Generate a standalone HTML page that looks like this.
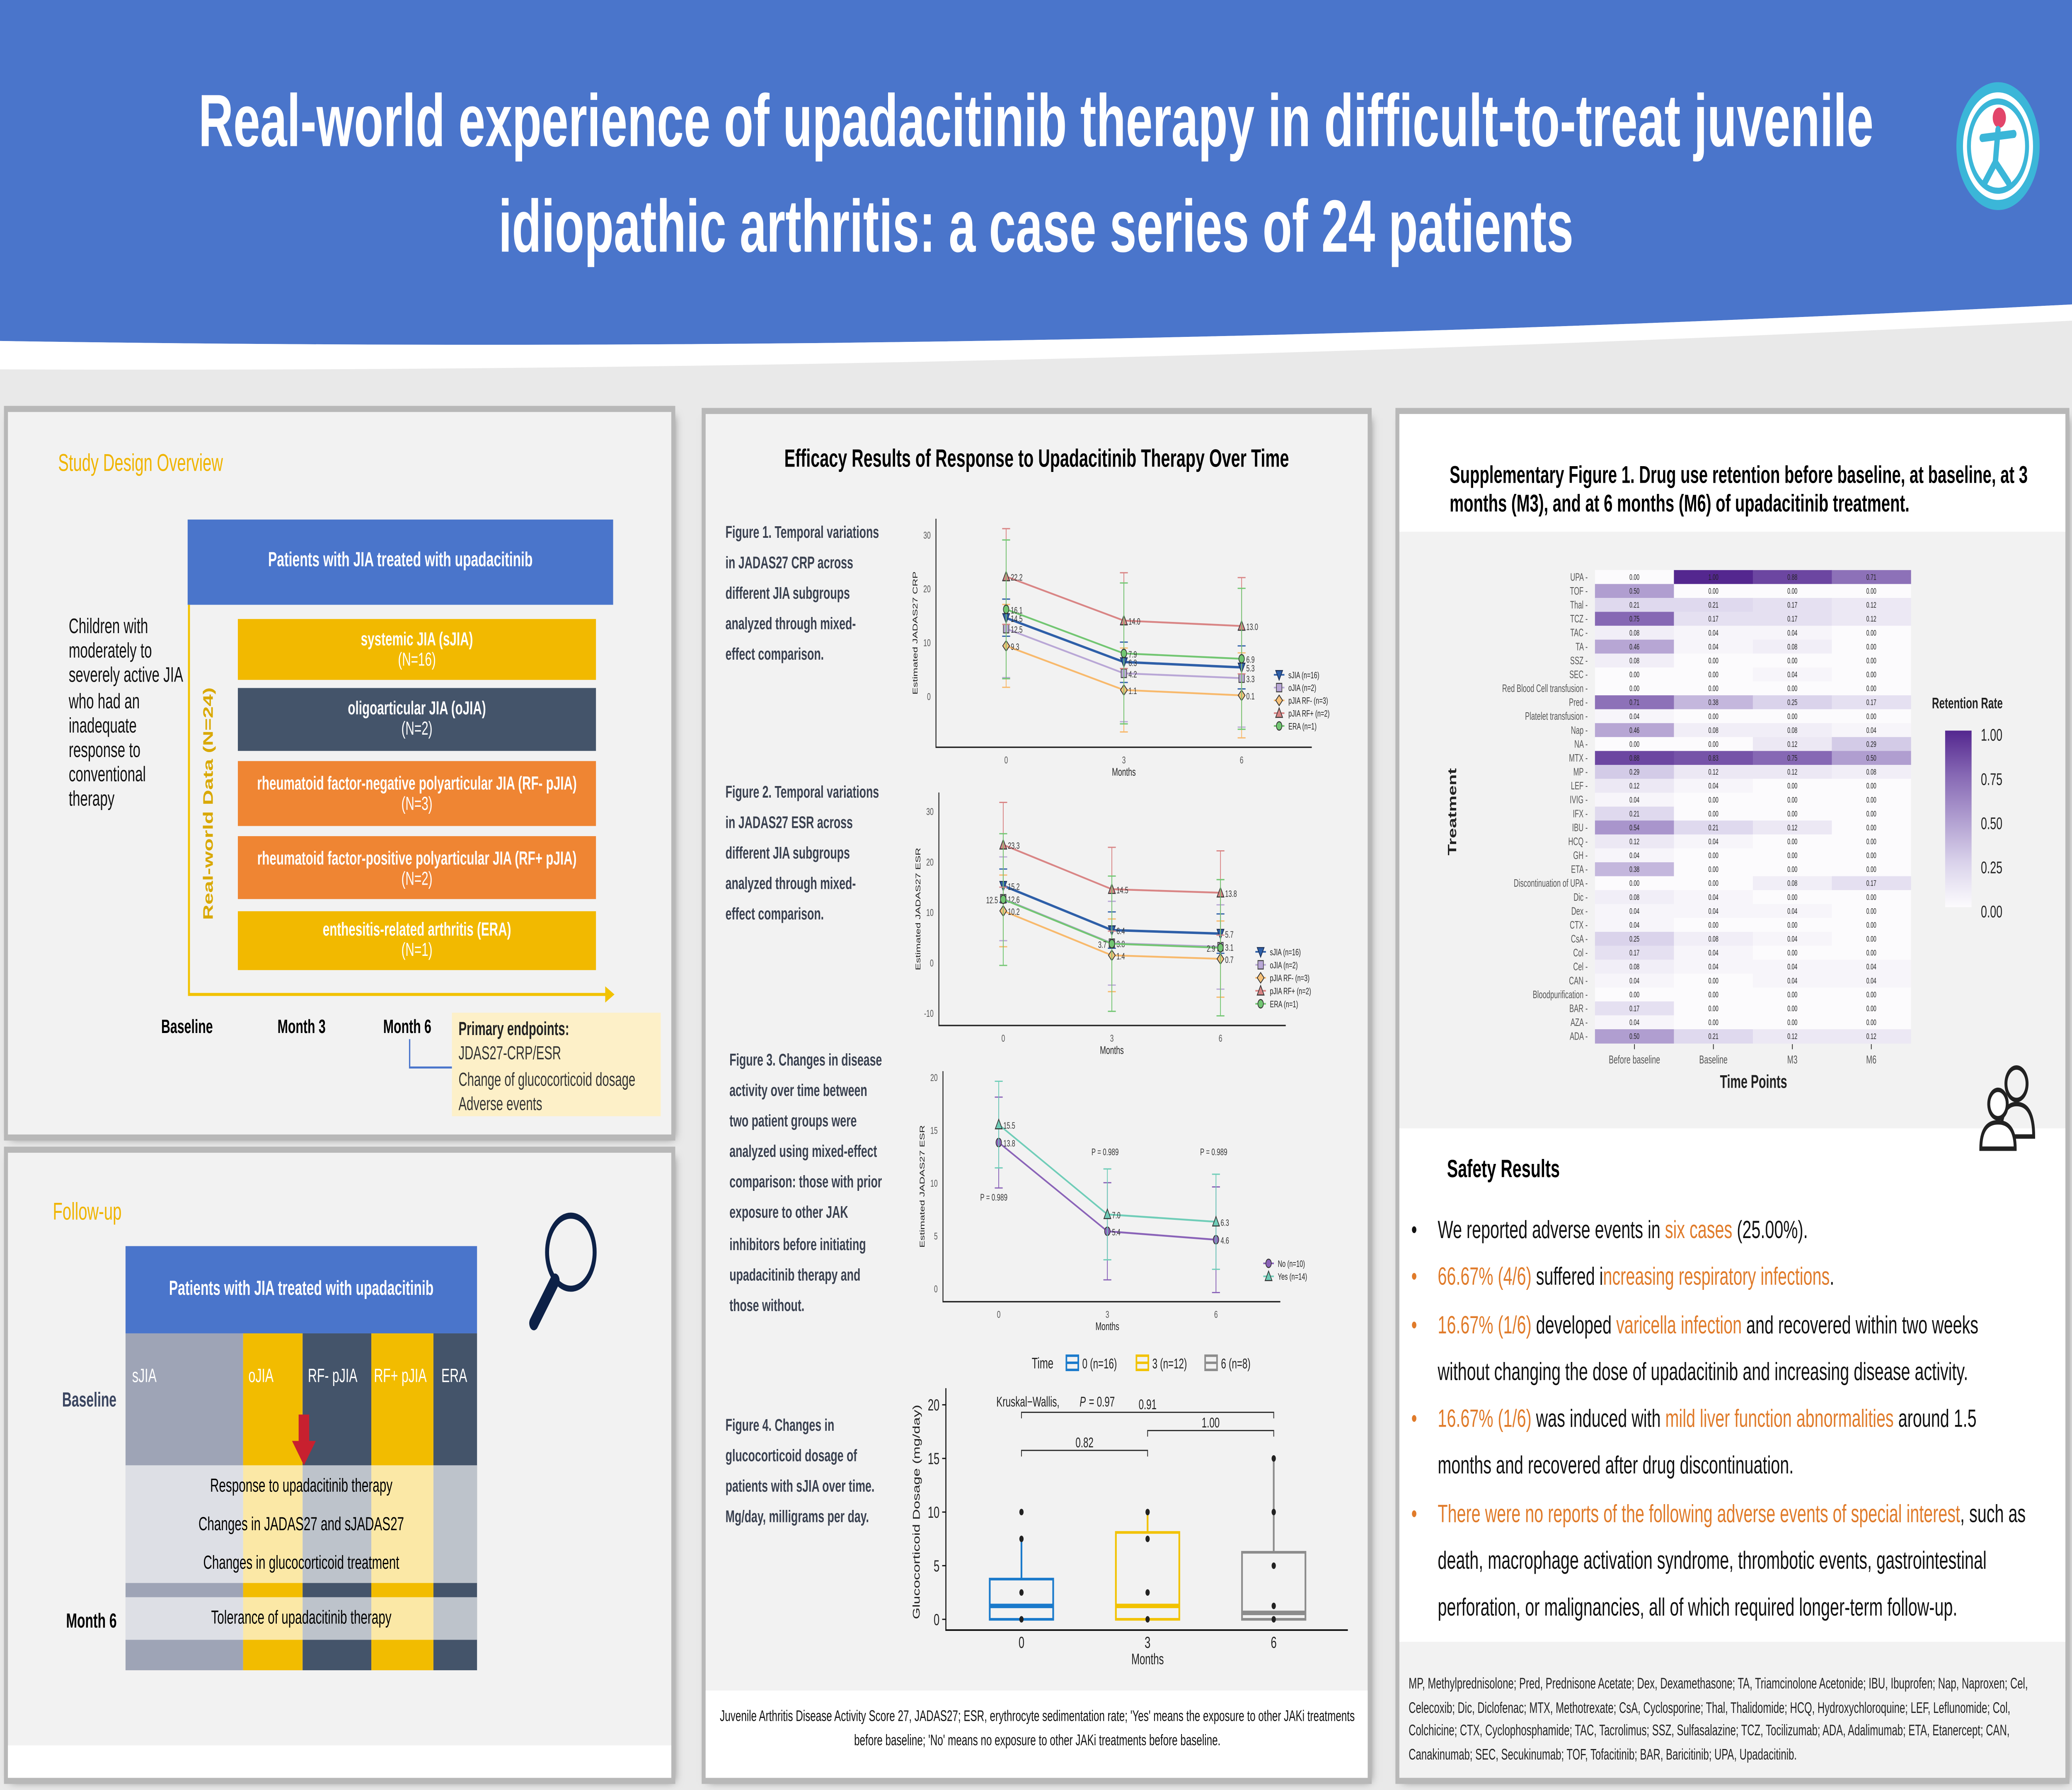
<!DOCTYPE html>
<html><head><meta charset="utf-8">
<style>
html,body{margin:0;padding:0;width:100vw;height:100vh;overflow:hidden;background:#e9e9e9;font-family:"Liberation Sans",sans-serif;}
#stage{position:absolute;left:0;top:0;width:1568px;height:882px;transform-origin:0 0;background:#e9e9e9;}
.abs{position:absolute;}
.panel{position:absolute;background:#f2f2f2;box-shadow:0 0 0 3px #b8b8b8,2px 2px 5px #777;}
.t{position:absolute;white-space:nowrap;}
.cap{position:absolute;font-size:8.4px;color:#3a4150;line-height:15.1px;font-weight:bold;font-family:"Liberation Sans Narrow","Liberation Sans",sans-serif;}
.sub{position:absolute;font-size:9.3px;text-align:center;color:#fff;line-height:10px;}
ul.b{position:absolute;margin:0;padding:0;list-style:none;font-size:12.4px;line-height:23.3px;color:#111;}
ul.b li{position:relative;padding-left:0;}
ul.b li:before{content:"•";position:absolute;left:-20px;}
ul.b li.o:before{color:#e07b2a;}
.or{color:#e07b2a;}
</style></head><body>
<div id="stage">

<svg class="abs" style="left:0;top:0" width="1568" height="200">
<path d="M0 190 Q784 172 1568 150 L1568 200 L0 200Z" fill="#e9e9e9"/>
<path d="M0 0 H1568 V150 Q784 176 0 168Z" fill="#4a75cb"/>
<path d="M0 168 Q784 176 1568 150 L1568 158 Q784 184 0 182Z" fill="#ffffff"/>
</svg>
<div class="t" style="left:0;width:1568px;top:34px;text-align:center;color:#fff;font-weight:bold;font-size:36.5px;line-height:52px;">Real-world experience of upadacitinib therapy in difficult-to-treat juvenile<br>idiopathic arthritis: a case series of 24 patients</div>
<svg class="abs" style="left:1480px;top:40px" width="64" height="64">
<circle cx="32" cy="32" r="29" fill="#fff" stroke="#3bb6d8" stroke-width="5"/>
<circle cx="32" cy="32" r="22" fill="none" stroke="#3bb6d8" stroke-width="3"/>
<circle cx="33" cy="18" r="5" fill="#e2456a"/>
<path d="M20 28 L44 26 M32 24 L30 40 L22 50 M30 40 L40 50" stroke="#3bb6d8" stroke-width="4" fill="none" stroke-linecap="round"/>
</svg>

<!-- LEFT PANEL 1 -->
<div class="panel" style="left:6px;top:203px;width:502px;height:356px"></div>
<div class="t" style="left:44px;top:221px;font-size:12px;color:#f0b400">Study Design Overview</div>
<div class="abs" style="left:52px;top:304px;width:90px;font-size:10.4px;line-height:12.2px;color:#111">Children with moderately to severely active JIA who had an inadequate response to conventional therapy</div>
<div class="abs" style="left:142px;top:256px;width:322px;height:42px;background:#4a75cb;color:#fff;font-size:10px;font-weight:bold;text-align:center;line-height:42px">Patients with JIA treated with upadacitinib</div>
<svg class="abs" style="left:140px;top:296px" width="330" height="200">
<path d="M3 2 V194 H322" fill="none" stroke="#f2c200" stroke-width="1.5"/>
<path d="M318 190 L325 194 L318 198Z" fill="#f2c200"/>
<text transform="translate(21,100) rotate(-90)" text-anchor="middle" font-size="10.5" font-weight="bold" fill="#d9a800">Real-world Data (N=24)</text>
</svg>
<div class="sub" style="left:180px;top:305px;width:271px;height:30px;background:#f2b900;padding-top:5px;box-sizing:border-box"><b>systemic JIA (sJIA)</b><br>(N=16)</div>
<div class="sub" style="left:180px;top:339px;width:271px;height:31px;background:#44546a;padding-top:5px;box-sizing:border-box"><b>oligoarticular JIA (oJIA)</b><br>(N=2)</div>
<div class="sub" style="left:180px;top:375px;width:271px;height:32px;background:#ef8533;padding-top:6px;box-sizing:border-box"><b>rheumatoid factor-negative polyarticular JIA (RF- pJIA)</b><br>(N=3)</div>
<div class="sub" style="left:180px;top:412px;width:271px;height:31px;background:#ef8533;padding-top:6px;box-sizing:border-box"><b>rheumatoid factor-positive polyarticular JIA (RF+ pJIA)</b><br>(N=2)</div>
<div class="sub" style="left:180px;top:449px;width:271px;height:29px;background:#f2b900;padding-top:4px;box-sizing:border-box"><b>enthesitis-related arthritis (ERA)</b><br>(N=1)</div>
<div class="t" style="left:122px;top:501px;font-size:9.5px;font-weight:bold">Baseline</div>
<div class="t" style="left:210px;top:501px;font-size:9.5px;font-weight:bold">Month 3</div>
<div class="t" style="left:290px;top:501px;font-size:9.5px;font-weight:bold">Month 6</div>
<svg class="abs" style="left:308px;top:512px" width="40" height="30"><path d="M2 0 V14 H34" fill="none" stroke="#4a75cb" stroke-width="1"/></svg>
<div class="abs" style="left:342px;top:499px;width:158px;height:51px;background:#fdf0c8;font-size:9.2px;line-height:12.3px;padding:2px 5px;box-sizing:border-box;color:#333"><b style="color:#222">Primary endpoints:</b><br>JDAS27-CRP/ESR<br>Change of glucocorticoid dosage<br>Adverse events</div>

<!-- LEFT PANEL 2 -->
<div class="panel" style="left:6px;top:568px;width:502px;height:308px"></div>
<div class="abs" style="left:6px;top:860px;width:502px;height:16px;background:#fff"></div>
<div class="t" style="left:40px;top:590px;font-size:12px;color:#f0b400">Follow-up</div>
<svg class="abs" style="left:390px;top:590px" width="70" height="70"><circle cx="42" cy="27" r="18" fill="none" stroke="#0d2147" stroke-width="3"/><path d="M30 41 L14 62" stroke="#0d2147" stroke-width="7" stroke-linecap="round"/></svg>
<div class="abs" style="left:95px;top:614px;width:266px;height:43px;background:#4a75cb;color:#fff;font-size:10px;font-weight:bold;text-align:center;line-height:43px">Patients with JIA treated with upadacitinib</div>
<div class="abs" style="left:95px;top:657px;width:89px;height:166px;background:#9ea4b6"></div>
<div class="abs" style="left:184px;top:657px;width:45px;height:166px;background:#f2bc00"></div>
<div class="abs" style="left:229px;top:657px;width:52px;height:166px;background:#44546a"></div>
<div class="abs" style="left:281px;top:657px;width:47px;height:166px;background:#f2bc00"></div>
<div class="abs" style="left:328px;top:657px;width:33px;height:166px;background:#44546a"></div>
<div class="t" style="left:100px;top:673px;font-size:9.5px;color:#fff">sJIA</div>
<div class="t" style="left:188px;top:673px;font-size:9.5px;color:#fff">oJIA</div>
<div class="t" style="left:233px;top:673px;font-size:9.5px;color:#fff">RF- pJIA</div>
<div class="t" style="left:283px;top:673px;font-size:9.5px;color:#fff">RF+ pJIA</div>
<div class="t" style="left:334px;top:673px;font-size:9.5px;color:#fff">ERA</div>
<div class="abs" style="left:95px;top:722px;width:266px;height:58px;background:rgba(255,255,255,0.65);font-size:9.3px;text-align:center;line-height:19px;padding-top:1px;box-sizing:border-box">Response to upadacitinib therapy<br>Changes in JADAS27 and sJADAS27<br>Changes in glucocorticoid treatment</div>
<div class="abs" style="left:95px;top:787px;width:266px;height:21px;background:rgba(255,255,255,0.65);font-size:9.3px;text-align:center;line-height:21px">Tolerance of upadacitinib therapy</div>
<svg class="abs" style="left:220px;top:696px" width="20" height="28"><path d="M6 1 H14 V14 H19 L10 26 L1 14 H6Z" fill="#c8202f"/></svg>
<div class="t" style="left:47px;top:685px;font-size:10px;font-weight:bold;color:#3a4560">Baseline</div>
<div class="t" style="left:50px;top:794px;font-size:10px;font-weight:bold">Month 6</div>

<!-- MIDDLE PANEL -->
<div class="panel" style="left:534px;top:204px;width:501px;height:672px"></div>
<div class="abs" style="left:534px;top:833px;width:501px;height:43px;background:#fff"></div>
<div class="t" style="left:534px;width:501px;top:219px;text-align:center;font-size:12.4px;font-weight:bold">Efficacy Results of Response to Upadacitinib Therapy Over Time</div>
<div class="cap" style="left:549px;top:255px">Figure 1. Temporal variations<br>in JADAS27 CRP across<br>different JIA subgroups<br>analyzed through mixed-<br>effect comparison.</div>
<div class="cap" style="left:549px;top:383px">Figure 2. Temporal variations<br>in JADAS27 ESR across<br>different JIA subgroups<br>analyzed through mixed-<br>effect comparison.</div>
<div class="cap" style="left:552px;top:515px">Figure 3. Changes in disease<br>activity over time between<br>two patient groups were<br>analyzed using mixed-effect<br>comparison: those with prior<br>exposure to other JAK<br>inhibitors before initiating<br>upadacitinib therapy and<br>those without.</div>
<div class="cap" style="left:549px;top:695px">Figure 4. Changes in<br>glucocorticoid dosage of<br>patients with sJIA over time.<br>Mg/day, milligrams per day.</div>
<div class="abs" style="left:540px;top:840px;width:490px;font-size:7.6px;line-height:11.5px;text-align:center;color:#111">Juvenile Arthritis Disease Activity Score 27, JADAS27; ESR, erythrocyte sedimentation rate; 'Yes' means the exposure to other JAKi treatments before baseline; 'No' means no exposure to other JAKi treatments before baseline.</div>

<!-- RIGHT PANEL -->
<div class="panel" style="left:1059px;top:204px;width:504px;height:672px"></div>
<div class="abs" style="left:1059px;top:204px;width:504px;height:58px;background:#fff"></div>
<div class="abs" style="left:1097px;top:227px;width:460px;font-size:12px;font-weight:bold;line-height:14px">Supplementary Figure 1. Drug use retention before baseline, at baseline, at 3 months (M3), and at 6 months (M6) of upadacitinib treatment.</div>
<div class="abs" style="left:1059px;top:556px;width:504px;height:253px;background:#fff"></div>
<div class="t" style="left:1095px;top:569px;font-size:12.4px;font-weight:bold">Safety Results</div>
<svg class="abs" style="left:1495px;top:522px" width="50" height="46">
<g fill="none" stroke="#222" stroke-width="2.2"><circle cx="31" cy="12" r="8"/><path d="M19 38 Q19 22 31 22 Q44 22 44 38Z"/><circle cx="17" cy="22" r="7" fill="#fff"/><path d="M4 44 Q4 31 17 31 Q30 31 30 44Z" fill="#fff"/></g></svg>
<ul class="b" style="left:1088px;top:595px;width:445px">
<li>We reported adverse events in <span class="or">six cases</span> (25.00%).</li>
<li class="o"><span class="or">66.67% (4/6)</span> suffered i<span class="or">ncreasing respiratory infections</span>.</li>
<li class="o"><span class="or">16.67% (1/6)</span> developed <span class="or">varicella infection</span> and recovered within two weeks without changing the dose of upadacitinib and increasing disease activity.</li>
<li class="o"><span class="or">16.67% (1/6)</span> was induced with <span class="or">mild liver function abnormalities</span> around 1.5 months and recovered after drug discontinuation.</li>
<li class="o"><span class="or">There were no reports of the following adverse events of special interest</span>, such as death, macrophage activation syndrome, thrombotic events, gastrointestinal perforation, or malignancies, all of which required longer-term follow-up.</li>
</ul>
<div class="abs" style="left:1066px;top:824px;width:492px;font-size:7.5px;line-height:11.5px;color:#222">MP, Methylprednisolone; Pred, Prednisone Acetate; Dex, Dexamethasone; TA, Triamcinolone Acetonide; IBU, Ibuprofen; Nap, Naproxen; Cel, Celecoxib; Dic, Diclofenac; MTX, Methotrexate; CsA, Cyclosporine; Thal, Thalidomide; HCQ, Hydroxychloroquine; LEF, Leflunomide; Col, Colchicine; CTX, Cyclophosphamide; TAC, Tacrolimus; SSZ, Sulfasalazine; TCZ, Tocilizumab; ADA, Adalimumab; ETA, Etanercept; CAN, Canakinumab; SEC, Secukinumab; TOF, Tofacitinib; BAR, Baricitinib; UPA, Upadacitinib.</div>

<svg id="chartsvg" class="abs" style="left:0;top:0" width="1568" height="882"></svg>
</div>

<script>
(function () {
  function fit() {
    const w = window.innerWidth || document.documentElement.clientWidth || 7680;
    const h = window.innerHeight || document.documentElement.clientHeight || 4320;
    document.getElementById("stage").style.transform = "scale(" + (w / 1568) + "," + (h / 882) + ")";
  }
  fit();
  window.addEventListener("resize", fit);
})();

// ---------- data ----------
const months = [0, 3, 6];
const groupNames = ["sJIA (n=16)", "oJIA (n=2)", "pJIA RF- (n=3)", "pJIA RF+ (n=2)", "ERA (n=1)"];
const crpSJIA = [14.5, 6.3, 5.3], crpSJIAlo = [11.1, 2.5, 1.3], crpSJIAhi = [18.0, 10.0, 9.3];
const crpOJIA = [12.5, 4.2, 3.3], crpOJIAlo = [3.4, -4.8, -5.8], crpOJIAhi = [21.5, 13.3, 12.3];
const crpRFN = [9.3, 1.1, 0.1], crpRFNlo = [1.6, -6.7, -7.8], crpRFNhi = [17.0, 8.9, 8.0];
const crpRFP = [22.2, 14.0, 13.0], crpRFPlo = [13.3, 5.1, 4.1], crpRFPhi = [31.1, 22.9, 22.0];
const crpERA = [16.1, 7.9, 6.9], crpERAlo = [3.2, -5.2, -6.2], crpERAhi = [29.0, 21.0, 20.0];
const esrSJIA = [15.2, 6.4, 5.7], esrSJIAlo = [11.9, 2.8, 1.8], esrSJIAhi = [18.5, 10.0, 9.6];
const esrOJIA = [12.6, 3.8, 3.1], esrOJIAlo = [4.3, -4.5, -5.3], esrOJIAhi = [20.9, 12.1, 11.4];
const esrRFN = [10.2, 1.4, 0.7], esrRFNlo = [3.1, -5.8, -6.9], esrRFNhi = [17.3, 8.6, 8.2];
const esrRFP = [23.3, 14.5, 13.8], esrRFPlo = [14.9, 6.2, 5.4], esrRFPhi = [31.7, 22.8, 22.1];
const esrERA = [12.5, 3.7, 2.9], esrERAlo = [-0.6, -9.7, -10.6], esrERAhi = [25.5, 17.1, 16.4];
const jakNames = ["No (n=10)", "Yes (n=14)"];
const jakNo = [13.8, 5.4, 4.6], jakNoLo = [9.5, 0.8, -0.4], jakNoHi = [18.1, 10.0, 9.6];
const jakYes = [15.5, 7.0, 6.3], jakYesLo = [11.4, 2.7, 1.8], jakYesHi = [19.6, 11.3, 10.8];
const pLabels = ["P = 0.989", "P = 0.989", "P = 0.989"];
const gcMonths = [0, 3, 6];
const gcQ1 = [0, 0, 0], gcMed = [1.25, 1.25, 0.6], gcQ3 = [3.75, 8.1, 6.25], gcWLo = [0, 0, 0], gcWHi = [7.5, 10, 15];
const gcPoints0 = [0, 2.5, 7.5, 10], gcPoints3 = [0, 2.5, 7.5, 10], gcPoints6 = [0, 1.25, 5, 10, 15];
const gcLegend = ["0 (n=16)", "3 (n=12)", "6 (n=8)"];
const pairP = ["0.82", "1.00", "0.91"];
const pairLevels = [15.75, 17.6, 19.3];
const heatRows = ["UPA","TOF","Thal","TCZ","TAC","TA","SSZ","SEC","Red Blood Cell transfusion","Pred","Platelet transfusion","Nap","NA","MTX","MP","LEF","IVIG","IFX","IBU","HCQ","GH","ETA","Discontinuation of UPA","Dic","Dex","CTX","CsA","Col","Cel","CAN","Bloodpurification","BAR","AZA","ADA"];
const heatCols = ["Before baseline", "Baseline", "M3", "M6"];
const heatBefore = [0,.50,.21,.75,.08,.46,.08,0,0,.71,.04,.46,0,.88,.29,.12,.04,.21,.54,.12,.04,.38,0,.08,.04,.04,.25,.17,.08,.04,0,.17,.04,.50];
const heatBase = [1,0,.21,.17,.04,.04,0,0,0,.38,0,.08,0,.83,.12,.04,0,0,.21,.04,0,0,0,.04,.04,0,.08,.04,.04,0,0,0,0,.21];
const heatM3 = [.88,0,.17,.17,.04,.08,0,.04,0,.25,0,.08,.12,.75,.12,0,0,0,.12,0,0,0,.08,0,.04,0,.04,0,.04,.04,0,0,0,.12];
const heatM6 = [.71,0,.12,.12,0,0,0,0,0,.17,0,.04,.29,.50,.08,0,0,0,0,0,0,0,.17,0,0,0,0,0,.04,.04,0,0,0,.12];
const legendTicks = [1.00, 0.75, 0.50, 0.25, 0.00];

// ---------- helpers ----------
const NS = "http://www.w3.org/2000/svg";
const root = document.getElementById("chartsvg");
function mk(tag, attrs, parent) {
  const e = document.createElementNS(NS, tag);
  for (const k in attrs) e.setAttribute(k, attrs[k]);
  (parent || root).appendChild(e);
  return e;
}
function txt(s, x, y, size, attrs, parent) {
  const e = mk("text", Object.assign({x: x, y: y, "font-size": size, "font-family": "Liberation Sans, sans-serif", fill: "#222"}, attrs || {}), parent);
  e.textContent = s;
  return e;
}
function marker(g, shape, x, y, col) {
  const s = 2.6;
  let e;
  if (shape === "tdown") e = mk("path", {d: `M${x-s} ${y-s*0.8} L${x+s} ${y-s*0.8} L${x} ${y+s}Z`, fill: col, stroke: "#1b2f55", "stroke-width": 0.5}, g);
  else if (shape === "sq") e = mk("rect", {x: x-s*0.8, y: y-s*0.8, width: s*1.6, height: s*1.6, fill: "#b9a7d6", stroke: "#444", "stroke-width": 0.5}, g);
  else if (shape === "dia") e = mk("path", {d: `M${x} ${y-s} L${x+s} ${y} L${x} ${y+s} L${x-s} ${y}Z`, fill: "#f7c27a", stroke: "#333", "stroke-width": 0.5}, g);
  else if (shape === "tup") e = mk("path", {d: `M${x-s} ${y+s*0.8} L${x+s} ${y+s*0.8} L${x} ${y-s}Z`, fill: col, stroke: "#333", "stroke-width": 0.5}, g);
  else e = mk("circle", {cx: x, cy: y, r: s*0.8, fill: col, stroke: "#333", "stroke-width": 0.5}, g);
  
  
}
function lineChart(cfg) {
  const g = mk("g", {});
  
  
  const xs = v => cfg.x0 + (v - 0) / 6 * (cfg.x6 - cfg.x0);
  const ys = v => cfg.yA + (v - cfg.vA) / (cfg.vB - cfg.vA) * (cfg.yB - cfg.yA);
  mk("path", {d: `M${cfg.axX} ${cfg.axTop} V${cfg.axY} H${cfg.axEnd}`, stroke: "#222", "stroke-width": 0.7, fill: "none"}, g);
  cfg.yticks.forEach(t => { txt(String(t), cfg.axX - 4, ys(t) + 2, 5, {"text-anchor": "end", fill: "#555"}, g); });
  months.forEach(m => { txt(String(m), xs(m), cfg.axY + 8, 5, {"text-anchor": "middle", fill: "#555"}, g); });
  txt("Months", xs(3), cfg.axY + 14, 5.5, {"text-anchor": "middle"}, g);
  txt(cfg.ylab, 0, 0, 5.3, {"text-anchor": "middle", transform: `translate(${cfg.axX - 14},${(cfg.axTop + cfg.axY) / 2}) rotate(-90)`}, g);
  cfg.series.forEach((s, si) => {
    const sg = mk("g", {}, g);
    
    
    const pts = months.map((m, i) => xs(m) + "," + ys(s.v[i])).join(" ");
    mk("polyline", {points: pts, fill: "none", stroke: s.c, "stroke-width": s.w || 0.9}, sg);
    months.forEach((m, i) => {
      const x = xs(m), lo = ys(s.lo[i]), hi = ys(s.hi[i]);
      mk("path", {d: `M${x} ${lo} V${hi} M${x-3} ${lo} H${x+3} M${x-3} ${hi} H${x+3}`, stroke: s.c, "stroke-width": 0.6, fill: "none"}, sg);
    });
    months.forEach((m, i) => {
      marker(sg, s.shape, xs(m), ys(s.v[i]), s.c);
      const off = (s.loff && s.loff[i]) || 0;
      txt(s.v[i].toFixed(1), xs(m) + (off < 0 ? off : 3.5), ys(s.v[i]) + 2, 4.6, {fill: "#333", "text-anchor": off < 0 ? "end" : "start"}, sg);
    });
    const ly = cfg.legY + si * cfg.legStep;
    mk("line", {x1: cfg.legX, y1: ly, x2: cfg.legX + 8, y2: ly, stroke: s.c, "stroke-width": 0.8}, sg);
    marker(sg, s.shape, cfg.legX + 4, ly, s.c);
    txt(s.name, cfg.legX + 11, ly + 1.7, 4.6, {}, sg);
  });
  return {g, xs, ys};
}

// Figure 1
lineChart({name: "figure1-crp-chart", x0: 761.4, x6: 939.6, vA: 30, yA: 263.4, vB: 0, yB: 342.9,
  axX: 708.3, axTop: 255.6, axY: 368.2, axEnd: 992.7, yticks: [0, 10, 20, 30], ylab: "Estimated JADAS27 CRP",
  legX: 964, legY: 332.5, legStep: 6.3,
  series: [
    {name: groupNames[0], v: crpSJIA, lo: crpSJIAlo, hi: crpSJIAhi, c: "#2e5fa8", shape: "tdown", w: 1.2},
    {name: groupNames[1], v: crpOJIA, lo: crpOJIAlo, hi: crpOJIAhi, c: "#b9a7d6", shape: "sq"},
    {name: groupNames[2], v: crpRFN, lo: crpRFNlo, hi: crpRFNhi, c: "#f8b96c", shape: "dia"},
    {name: groupNames[3], v: crpRFP, lo: crpRFPlo, hi: crpRFPhi, c: "#d98585", shape: "tup"},
    {name: groupNames[4], v: crpERA, lo: crpERAlo, hi: crpERAhi, c: "#72c672", shape: "circ"}
  ]});
// Figure 2
lineChart({name: "figure2-esr-chart", x0: 759.2, x6: 923.6, vA: 30, yA: 399.6, vB: 0, yB: 474.2,
  axX: 710.5, axTop: 390.5, axY: 505.3, axEnd: 973, yticks: [-10, 0, 10, 20, 30], ylab: "Estimated JADAS27 ESR",
  legX: 950, legY: 469, legStep: 6.4,
  series: [
    {name: groupNames[0], v: esrSJIA, lo: esrSJIAlo, hi: esrSJIAhi, c: "#2e5fa8", shape: "tdown", w: 1.2},
    {name: groupNames[1], v: esrOJIA, lo: esrOJIAlo, hi: esrOJIAhi, c: "#b9a7d6", shape: "sq"},
    {name: groupNames[2], v: esrRFN, lo: esrRFNlo, hi: esrRFNhi, c: "#f8b96c", shape: "dia"},
    {name: groupNames[3], v: esrRFP, lo: esrRFPlo, hi: esrRFPhi, c: "#d98585", shape: "tup"},
    {name: groupNames[4], v: esrERA, lo: esrERAlo, hi: esrERAhi, c: "#72c672", shape: "circ", loff: [-4, -4, -4]}
  ]});
// Figure 3
const f3 = lineChart({name: "figure3-jak-chart", x0: 755.8, x6: 920.2, vA: 20, yA: 530.7, vB: 0, yB: 634.8,
  axX: 713.6, axTop: 527.8, axY: 641.4, axEnd: 968.9, yticks: [0, 5, 10, 15, 20], ylab: "Estimated JADAS27 ESR",
  legX: 956, legY: 622.5, legStep: 6.4,
  series: [
    {name: jakNames[0], v: jakNo, lo: jakNoLo, hi: jakNoHi, c: "#8a63b8", shape: "circ"},
    {name: jakNames[1], v: jakYes, lo: jakYesLo, hi: jakYesHi, c: "#6fcdb8", shape: "tup"}
  ]});
txt(pLabels[0], f3.xs(0) - 14, f3.ys(8.3), 4.8, {fill: "#333"});
txt(pLabels[1], f3.xs(3) - 12, f3.ys(12.6), 4.8, {fill: "#333"});
txt(pLabels[2], f3.xs(6) - 12, f3.ys(12.6), 4.8, {fill: "#333"});

// Figure 4 boxplot
(function () {
  const g = mk("g", {});
  
  
  const xs = m => 773 + m / 6 * (963.9 - 773);
  const ys = v => 797.9 - v / 20 * (797.9 - 692.2);
  const cols = ["#1a7acb", "#f2c200", "#8c8c8c"];
  mk("path", {d: `M715.8 684 V803.2 H1020`, stroke: "#111", "stroke-width": 0.8, fill: "none"}, g);
  [0, 5, 10, 15, 20].forEach(t => {
    txt(String(t), 711, ys(t) + 2.8, 8, {"text-anchor": "end"}, g);
    mk("line", {x1: 713, x2: 715.8, y1: ys(t), y2: ys(t), stroke: "#111", "stroke-width": 0.6}, g);
  });
  gcMonths.forEach(m => txt(String(m), xs(m), 812, 8, {"text-anchor": "middle"}, g));
  txt("Months", xs(3), 820, 7.5, {"text-anchor": "middle"}, g);
  txt("Glucocorticoid Dosage (mg/day)", 0, 0, 7.4, {"text-anchor": "middle", transform: "translate(696,745) rotate(-90)"}, g);
  const pts = [gcPoints0, gcPoints3, gcPoints6];
  gcMonths.forEach((m, i) => {
    const bg = mk("g", {}, g);
    
    
    const x = xs(m), c = cols[i];
    mk("line", {x1: x, x2: x, y1: ys(gcQ3[i]), y2: ys(gcWHi[i]), stroke: c, "stroke-width": 1.3}, bg);
    mk("rect", {x: x - 24, y: ys(gcQ3[i]), width: 48, height: ys(gcQ1[i]) - ys(gcQ3[i]), fill: "none", stroke: c, "stroke-width": 1.3}, bg);
    mk("line", {x1: x - 24, x2: x + 24, y1: ys(gcMed[i]), y2: ys(gcMed[i]), stroke: c, "stroke-width": 2.2}, bg);
    pts[i].forEach(p => {
      const d = mk("circle", {cx: x, cy: ys(p), r: 1.6, fill: "#222"}, bg);
      
      
    });
  });
  const pairs = [[0, 3], [3, 6], [0, 6]];
  pairs.forEach((p, i) => {
    const y = ys(pairLevels[i]);
    mk("path", {d: `M${xs(p[0])} ${y + 3} V${y} H${xs(p[1])} V${y + 3}`, fill: "none", stroke: "#333", "stroke-width": 0.6}, g);
    txt(pairP[i], (xs(p[0]) + xs(p[1])) / 2, y - 1.5, 7, {"text-anchor": "middle"}, g);
  });
  txt("Kruskal\u2212Wallis, ", 754, 693, 7, {}, g);
  txt("P", 817, 693, 7, {"font-style": "italic"}, g);
  txt("= 0.97", 824, 693, 7, {}, g);
  txt("Time", 780.8, 674.3, 7.5, {}, g);
  const lx = [807, 860, 912];
  gcLegend.forEach((l, i) => {
    mk("rect", {x: lx[i], y: 668, width: 9, height: 7, fill: "none", stroke: cols[i], "stroke-width": 1.2}, g);
    mk("line", {x1: lx[i], x2: lx[i] + 9, y1: 671.5, y2: 671.5, stroke: cols[i], "stroke-width": 1.2}, g);
    txt(l, lx[i] + 12, 674.3, 7, {}, g);
  });
})();

// Heatmap
(function () {
  const g = mk("g", {});
  
  
  const stops = [[0, [252, 251, 253]], [0.25, [218, 211, 235]], [0.5, [176, 158, 208]], [0.75, [134, 104, 180]], [1, [84, 39, 143]]];
  function col(v) {
    for (let i = 1; i < stops.length; i++) {
      if (v <= stops[i][0]) {
        const a = stops[i - 1], b = stops[i], t = (v - a[0]) / (b[0] - a[0]);
        return "rgb(" + a[1].map((c, k) => Math.round(c + (b[1][k] - c) * t)).join(",") + ")";
      }
    }
    return "rgb(84,39,143)";
  }
  const x0 = 1207, cw = (1446 - 1207) / 4, y0 = 280.9, rh = (514 - 280.9) / heatRows.length;
  const cols = [heatBefore, heatBase, heatM3, heatM6];
  heatRows.forEach((r, ri) => {
    const y = y0 + ri * rh;
    txt(r + " -", 1201.5, y + rh / 2 + 1.8, 5.2, {"text-anchor": "end", fill: "#555"}, g);
    cols.forEach((arr, ci) => {
      const v = arr[ri];
      const c = mk("rect", {x: x0 + ci * cw, y: y, width: cw + 0.2, height: rh + 0.2, fill: col(v)}, g);
      
      
      txt(v.toFixed(2), x0 + ci * cw + cw / 2, y + rh / 2 + 1.4, 3.9, {"text-anchor": "middle", fill: "#222"}, g);
    });
  });
  heatCols.forEach((c, ci) => {
    const x = x0 + ci * cw + cw / 2;
    mk("line", {x1: x, x2: x, y1: 514.5, y2: 517, stroke: "#333", "stroke-width": 0.6}, g);
    txt(c, x, 524, 5.6, {"text-anchor": "middle", fill: "#555"}, g);
  });
  txt("Time Points", 1327, 536, 9, {"text-anchor": "middle", "font-weight": "bold"}, g);
  txt("Treatment", 0, 0, 9, {"text-anchor": "middle", "font-weight": "bold", transform: "translate(1102,400) rotate(-90)"}, g);
  txt("Retention Rate", 1462, 349, 7.6, {"font-weight": "bold"}, g);
  const defs = mk("defs", {}, g);
  const lg = mk("linearGradient", {id: "rg", x1: 0, y1: 0, x2: 0, y2: 1}, defs);
  stops.slice().reverse().forEach(s => mk("stop", {offset: 1 - s[0], "stop-color": col(s[0])}, lg));
  mk("rect", {x: 1472, y: 360, width: 20, height: 87, fill: "url(#rg)"}, g);
  legendTicks.forEach(t => {
    const y = 362 + (1 - t) * 87;
    txt(t.toFixed(2), 1499, y + 3, 8.4, {}, g);
  });
})();
</script>
</body></html>
